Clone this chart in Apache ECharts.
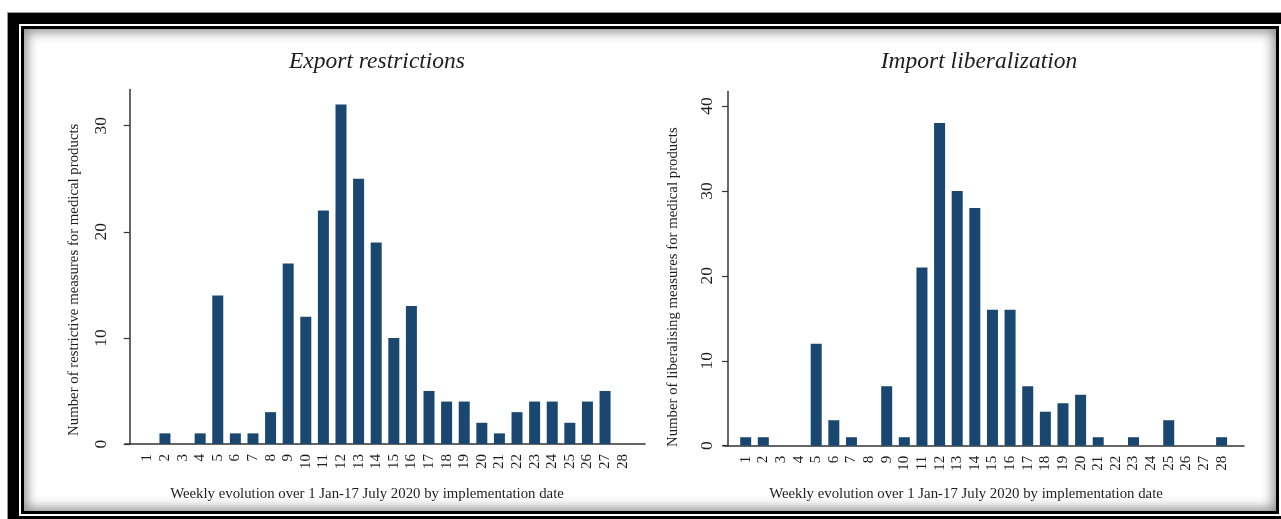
<!DOCTYPE html>
<html>
<head>
<meta charset="utf-8">
<script src="https://cdn.jsdelivr.net/npm/echarts@6/dist/echarts.min.js"></script>
<style>
  html, body { margin: 0; padding: 0; background: #fff; }
  body { width: 1281px; height: 519px; position: relative; overflow: hidden; }
  .frame { position: absolute; box-sizing: content-box; }
  #outer { left: 8px; top: 13px; width: 1300px; height: 540px; background: #000; box-shadow: 0 0 0 1px #9a9a9a; }
  #gap { left: 19px; top: 24px; width: 1262px; height: 492px; background: #fff; }
  #inner { left: 21px; top: 26px; width: 1252px; height: 482px; border: 3px solid #000; background: #fff;
           box-shadow: inset 0 0 12px 3px rgba(0,0,0,0.45); }
  #chart { position: absolute; left: 0; top: 0; width: 1281px; height: 519px; }
</style>
</head>
<body>
<div id="outer" class="frame"></div>
<div id="gap" class="frame"></div>
<div id="inner" class="frame"></div>
<div id="chart"></div>
<script>
// Week numbers (1 Jan - 17 July 2020)
const weeks = [1,2,3,4,5,6,7,8,9,10,11,12,13,14,15,16,17,18,19,20,21,22,23,24,25,26,27,28];

// Number of restrictive (export) measures per week
const exportMeasures = [0,1,0,1,14,1,1,3,17,12,22,32,25,19,10,13,5,4,4,2,1,3,4,4,2,4,5,0];

// Number of liberalising (import) measures per week
const importMeasures = [1,1,0,0,12,3,1,0,7,1,21,38,30,28,16,16,7,4,5,6,1,0,1,0,3,0,0,1];

const exportTicks = [0, 10, 20, 30];
const importTicks = [0, 10, 20, 30, 40];

const panelTitles = ['Export restrictions', 'Import liberalization'];
const yTitles = ['Number of restrictive measures for medical products',
                 'Number of liberalising measures for medical products'];
const xTitle = 'Weekly evolution over 1 Jan-17 July 2020 by implementation date';

const SERIF = '"Liberation Serif", "DejaVu Serif", serif';
const NAVY = '#1a476f';
const INK = '#1e1e1e';

function xAxisFor(gridIndex) {
  return {
    type: 'value', gridIndex: gridIndex, min: -0.27, max: 29.27,
    axisLine: { show: true, lineStyle: { color: '#333', width: 1.5 } },
    axisTick: { show: false },
    splitLine: { show: false },
    axisLabel: {
      customValues: weeks, rotate: 90, margin: 10,
      fontFamily: SERIF, fontSize: 15, color: INK,
      formatter: v => String(v)
    }
  };
}

// nameShift pads the end of the rotated title so it sits lower along the axis
function yAxisFor(gridIndex, max, ticks, name, labelMargin, nameShift) {
  return {
    type: 'value', gridIndex: gridIndex, min: 0, max: max,
    name: name, nameLocation: 'middle', nameRotate: 90, nameGap: 43,
    nameTextStyle: { fontFamily: SERIF, fontSize: 14.8, color: INK, padding: [0, nameShift * 2, 0, 0] },
    axisLine: { show: true, lineStyle: { color: '#333', width: 1.5 } },
    axisTick: { show: true, customValues: ticks, length: 6, lineStyle: { color: '#333', width: 1.2 } },
    splitLine: { show: false },
    axisLabel: {
      customValues: ticks, rotate: 90, margin: labelMargin,
      fontFamily: SERIF, fontSize: 17.5, color: INK
    }
  };
}

function barData(values) {
  return weeks.map((w, i) => [w, values[i]]);
}

const chart = echarts.init(document.getElementById('chart'), null, { renderer: 'canvas' });

const titleStyle = { fontFamily: SERIF, fontStyle: 'italic', fontWeight: 'normal', fontSize: 23.5, color: INK };
const axisTitleStyle = { fontFamily: SERIF, fontWeight: 'normal', fontSize: 14.8, color: INK };

chart.setOption({
  backgroundColor: 'transparent',
  animation: false,
  title: [
    { text: panelTitles[0], left: 372, top: 45, textAlign: 'center', textStyle: titleStyle },
    { text: panelTitles[1], left: 974, top: 45, textAlign: 'center', textStyle: titleStyle },
    { text: xTitle, left: 362, top: 482, textAlign: 'center', textStyle: axisTitleStyle },
    { text: xTitle, left: 961, top: 482, textAlign: 'center', textStyle: axisTitleStyle }
  ],
  grid: [
    { left: 125, top: 89.6, width: 520, height: 354.4 },
    { left: 723.3, top: 91.6, width: 520.7, height: 354.1 }
  ],
  xAxis: [xAxisFor(0), xAxisFor(1)],
  yAxis: [
    yAxisFor(0, 33.4, exportTicks, yTitles[0], 14.5, 13),
    yAxisFor(1, 41.7, importTicks, yTitles[1], 6.5, 18.5)
  ],
  series: [
    { type: 'bar', xAxisIndex: 0, yAxisIndex: 0, data: barData(exportMeasures),
      barWidth: 11, itemStyle: { color: NAVY } },
    { type: 'bar', xAxisIndex: 1, yAxisIndex: 1, data: barData(importMeasures),
      barWidth: 11, itemStyle: { color: NAVY } }
  ]
});
</script>
</body>
</html>
